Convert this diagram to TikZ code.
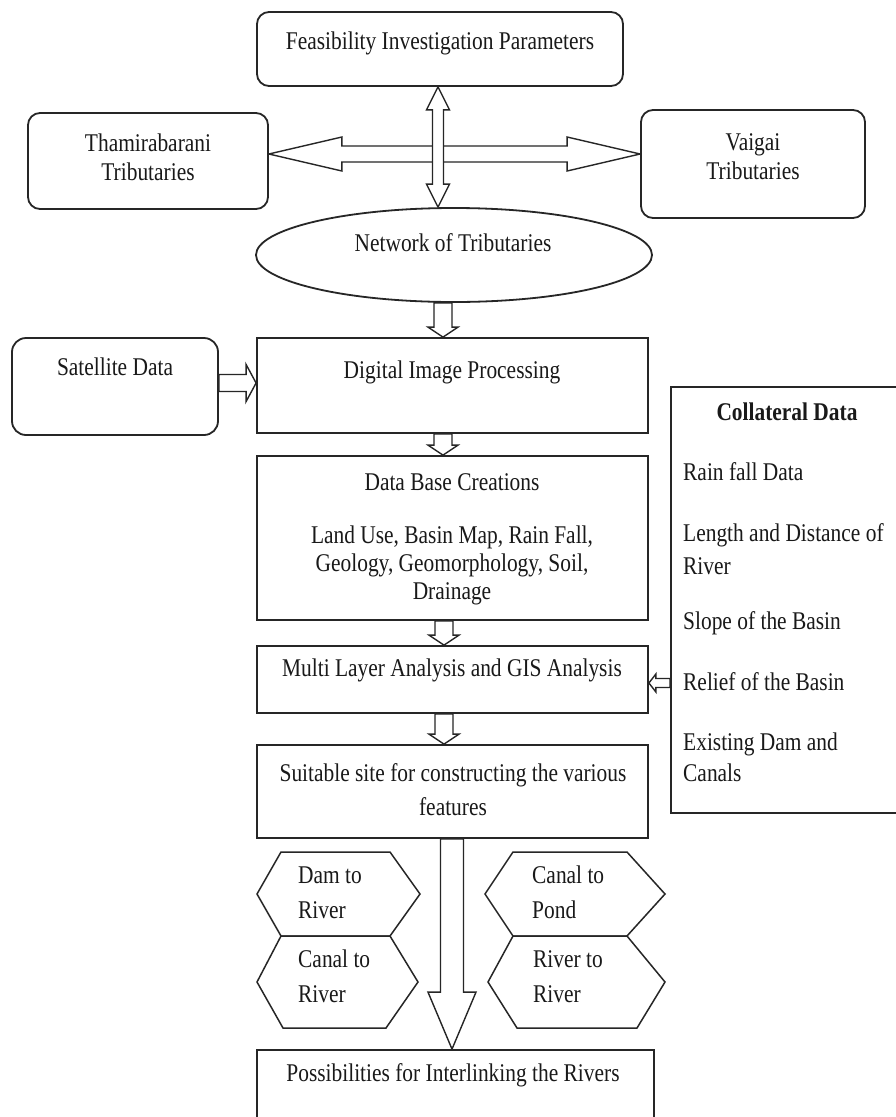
\documentclass[tikz,border=0pt]{standalone}
\usepackage{fontspec}
\setmainfont{Liberation Serif}[FakeStretch=0.84]
\usetikzlibrary{calc,shapes.geometric}
\pgfdeclarelayer{bg}
\pgfdeclarelayer{arrowlayer}
\pgfsetlayers{bg,arrowlayer,main}

\tikzset{
  txt/.style={font=\fontsize{25.5}{29}\selectfont, inner sep=0pt, align=center, text=black!90},
  ltxt/.style={txt, align=left, anchor=west},
  box/.style={draw=black!85, line width=1.8pt, fill=white, inner sep=0pt},
  rbox/.style={box, rounded corners=12pt},
  blk/.style={draw=black!85, line width=1.4pt, fill=white, line join=miter},
  hexa/.style={draw=black!85, line width=1.5pt, fill=white, line join=miter},
}

% single block arrow: #1 start, #2 tip, #3 half shaft, #4 half head, #5 head length
\newcommand{\blkarrow}[5]{%
  \coordinate (bhA) at #1; \coordinate (bhB) at #2;
  \coordinate (bhH) at ($(bhB)!#5!(bhA)$);
  \draw[blk] ($(bhA)!#3!90:(bhB)$) -- ($(bhH)!#3!90:(bhB)$) -- ($(bhH)!#4!90:(bhB)$)
    -- (bhB) -- ($(bhH)!#4!-90:(bhB)$) -- ($(bhH)!#3!-90:(bhB)$) -- ($(bhA)!#3!-90:(bhB)$) -- cycle;}
% double block arrow
\newcommand{\dblarrow}[5]{%
  \coordinate (bhA) at #1; \coordinate (bhB) at #2;
  \coordinate (bhH) at ($(bhB)!#5!(bhA)$);
  \coordinate (bhG) at ($(bhA)!#5!(bhB)$);
  \draw[blk] ($(bhG)!#3!90:(bhB)$) -- ($(bhH)!#3!90:(bhB)$) -- ($(bhH)!#4!90:(bhB)$)
    -- (bhB) -- ($(bhH)!#4!-90:(bhB)$) -- ($(bhH)!#3!-90:(bhB)$) -- ($(bhG)!#3!-90:(bhB)$)
    -- ($(bhG)!#4!-90:(bhB)$) -- (bhA) -- ($(bhG)!#4!90:(bhB)$) -- cycle;}

\begin{document}
\begin{tikzpicture}[x=1pt, y=-1pt]
\useasboundingbox (0,0) rectangle (896,1117);
\clip (0,0) rectangle (896,1117);
\begin{pgfonlayer}{bg}
  \fill[white] (0,0) rectangle (896,1117);
\end{pgfonlayer}

% boxes
\node[rbox, minimum width=366pt, minimum height=74pt] (feas) at (440,49) {};
\node[rbox, minimum width=240pt, minimum height=96pt] (tham) at (148,161) {};
\node[rbox, minimum width=224pt, minimum height=108pt] (vai) at (753,164) {};
\node[box, ellipse, minimum width=396pt, minimum height=94pt] (ell) at (454,255) {};
\node[rbox, rounded corners=14pt, minimum width=206pt, minimum height=97pt] (sat) at (115,386.5) {};
\node[box, minimum width=391pt, minimum height=95pt] (dig) at (452.5,385.5) {};
\node[box, minimum width=391pt, minimum height=164pt] (db) at (452.5,538) {};
\node[box, minimum width=391pt, minimum height=67pt] (multi) at (452.5,679.5) {};
\node[box, minimum width=391pt, minimum height=93pt] (suit) at (452.5,791.5) {};
\node[box, minimum width=397pt, minimum height=100pt] (poss) at (455.5,1100) {};
\node[box, minimum width=240pt, minimum height=426pt] (coll) at (791,600) {};

% hexagons
\draw[hexa] (257,894) -- (281,852) -- (390,852) -- (420,894) -- (390,936) -- (281,936) -- cycle;
\draw[hexa] (257,982) -- (281,936) -- (390,936) -- (418,982) -- (386,1028) -- (283,1028) -- cycle;
\draw[hexa] (485,894) -- (513,852) -- (627,852) -- (665,894) -- (627,936) -- (513,936) -- cycle;
\draw[hexa] (488,982) -- (513,936) -- (627,936) -- (665,982) -- (637,1028) -- (517,1028) -- cycle;

% texts
\node[txt] (tfeas) at (440,43) {Feasibility Investigation Parameters};
\node[txt] (ttham) at (148,157.5) {Thamirabarani\\Tributaries};
\node[txt] (tvai) at (753,157) {Vaigai\\Tributaries};
\node[txt] (tell) at (453,243) {Network of Tributaries};
\node[txt] (tsat) at (115,367) {Satellite Data};
\node[txt] (tdig) at (452,372) {Digital Image Processing};
\node[txt] (tdb1) at (452,482) {Data Base Creations};
\node[txt, font=\fontsize{25.5}{28}\selectfont] (tdb2) at (452,565) {Land Use, Basin Map, Rain Fall,\\Geology, Geomorphology, Soil,\\Drainage};
\node[txt] (tmulti) at (452,670) {Multi Layer Analysis and GIS Analysis};
\node[txt, font=\fontsize{25.5}{34}\selectfont] (tsuit) at (453,790) {Suitable site for constructing the various\\features};
\node[txt] (tposs) at (453,1075) {Possibilities for Interlinking the Rivers};

\node[txt, font=\bfseries\fontsize{25.5}{29}\selectfont] (tcoll) at (787,412) {Collateral Data};
\node[ltxt] (tc1) at (683,472) {Rain fall Data};
\node[ltxt, font=\fontsize{25.5}{33}\selectfont] (tc2) at (683,549) {Length and Distance of\\River};
\node[ltxt] (tc3) at (683,623) {Slope of the Basin};
\node[ltxt] (tc4) at (683,682) {Relief of the Basin};
\node[ltxt, font=\fontsize{25.5}{31}\selectfont] (tc5) at (683,757) {Existing Dam and\\Canals};

\node[ltxt, font=\fontsize{25.5}{35}\selectfont] (th1) at (298,892.5) {Dam to\\River};
\node[ltxt, font=\fontsize{25.5}{35}\selectfont] (th2) at (298,976.5) {Canal to\\River};
\node[ltxt, font=\fontsize{25.5}{35}\selectfont] (th3) at (532,892.5) {Canal to\\Pond};
\node[ltxt, font=\fontsize{25.5}{35}\selectfont] (th4) at (533,976.5) {River to\\River};

% arrows
\coordinate (xa) at (438,0);
\coordinate (ya) at (0,154);
\coordinate (xb) at (443,0);
\coordinate (yb) at (0,383);
\coordinate (xc) at (444,0);
\coordinate (yc) at (0,683);
\coordinate (xd) at (452,0);
\begin{pgfonlayer}{arrowlayer}
  \dblarrow{(ya -| tham.east)}{(ya -| vai.west)}{8pt}{17pt}{73pt}
  \dblarrow{(xa |- feas.south)}{(xa |- ell.north)}{5.5pt}{11.5pt}{23pt}
  \blkarrow{(xb |- ell.south)}{(xb |- dig.north)}{9pt}{15pt}{10pt}
  \blkarrow{(yb -| sat.east)}{(yb -| dig.west)}{8.5pt}{18.5pt}{10pt}
  \blkarrow{(xb |- dig.south)}{(xb |- db.north)}{9pt}{15pt}{10pt}
  \blkarrow{(xc |- db.south)}{(xc |- multi.north)}{9pt}{15pt}{10pt}
  \blkarrow{(xc |- multi.south)}{(xc |- suit.north)}{9pt}{15pt}{10pt}
  \blkarrow{(yc -| coll.west)}{(yc -| multi.east)}{4.5pt}{9pt}{7pt}
  \blkarrow{(xd |- suit.south)}{(xd |- poss.north)}{11.5pt}{24pt}{57pt}
\end{pgfonlayer}
\end{tikzpicture}
\end{document}
